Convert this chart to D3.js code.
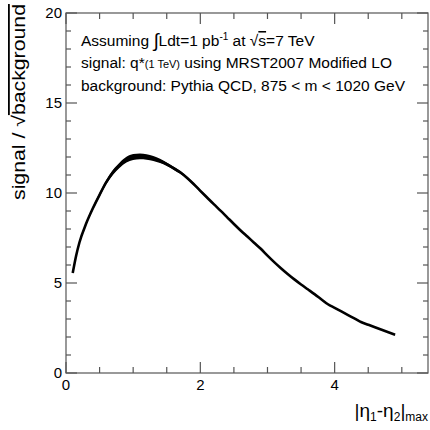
<!DOCTYPE html>
<html>
<head>
<meta charset="utf-8">
<script src="https://cdn.jsdelivr.net/npm/d3@7"></script>
<style>
  body { margin: 0; background: #fff; }
  svg text { font-family: "Liberation Sans", Arial, sans-serif; fill: #000; }
</style>
</head>
<body>
<div id="chart"></div>
<script>
// |eta1-eta2|max cut values
var etaCut = [0.1, 0.15, 0.2, 0.3, 0.4, 0.5, 0.6, 0.7, 0.8, 0.9, 1.0,
              1.1, 1.2, 1.3, 1.4, 1.5, 1.6, 1.7, 1.8, 1.9, 2.0,
              2.1, 2.2, 2.3, 2.4, 2.5, 2.6, 2.7, 2.8, 2.9, 3.0,
              3.1, 3.2, 3.3, 3.4, 3.5, 3.6, 3.7, 3.8, 3.9, 4.0,
              4.1, 4.2, 4.3, 4.4, 4.5, 4.6, 4.7, 4.8, 4.9];
// signal / sqrt(background)
var significance = [5.55, 6.5, 7.25, 8.3, 9.15, 9.9, 10.6, 11.15, 11.55, 11.85, 12.0,
                    12.03, 12.0, 11.92, 11.78, 11.6, 11.38, 11.15, 10.85, 10.5, 10.12,
                    9.75, 9.38, 9.02, 8.65, 8.28, 7.92, 7.58, 7.24, 6.9, 6.52,
                    6.16, 5.82, 5.5, 5.2, 4.92, 4.65, 4.38, 4.1, 3.82, 3.62,
                    3.42, 3.22, 3.02, 2.82, 2.68, 2.54, 2.4, 2.26, 2.12];
// half width of the uncertainty band
var bandErr = [0.03, 0.05, 0.06, 0.08, 0.1, 0.11, 0.12, 0.14, 0.15, 0.16, 0.16,
               0.16, 0.15, 0.14, 0.12, 0.1, 0.09, 0.08, 0.07, 0.07, 0.06,
               0.06, 0.05, 0.05, 0.05, 0.05, 0.04, 0.04, 0.04, 0.04, 0.04,
               0.04, 0.03, 0.03, 0.03, 0.03, 0.03, 0.03, 0.03, 0.03, 0.03,
               0.03, 0.03, 0.03, 0.03, 0.03, 0.03, 0.03, 0.03, 0.03];
var xMajor = [0, 2, 4];
var yMajor = [0, 5, 10, 15, 20];
var notes = ["Assuming", "signal: q*", "background: Pythia QCD, 875 < m < 1020 GeV"];

var W = 430, H = 430;
var margin = {left: 66, right: 2, top: 13, bottom: 57};

var svg = d3.select('#chart').append('svg')
    .attr('width', W)
    .attr('height', H);

var x = d3.scaleLinear().domain([0, 5.39]).range([margin.left, W - margin.right]);
var y = d3.scaleLinear().domain([0, 20]).range([H - margin.bottom, margin.top]);

var axisColor = '#555';

// frame
svg.append('rect')
    .attr('x', x(0)).attr('y', y(20))
    .attr('width', x(5.39) - x(0)).attr('height', y(0) - y(20))
    .attr('fill', 'none').attr('stroke', axisColor).attr('stroke-width', 1.2);

// ticks (ROOT style: inside, mirrored)
var xMinor = d3.range(0, 5.4, 0.5);
var yMinor = d3.range(0, 20.01, 1);
var ticks = svg.append('g').attr('stroke', axisColor).attr('stroke-width', 1.2);
xMinor.forEach(function(v) {
    var len = (xMajor.indexOf(v) >= 0) ? 11 : 6;
    ticks.append('line').attr('x1', x(v)).attr('x2', x(v)).attr('y1', y(0)).attr('y2', y(0) - len);
    ticks.append('line').attr('x1', x(v)).attr('x2', x(v)).attr('y1', y(20)).attr('y2', y(20) + len);
});
yMinor.forEach(function(v) {
    var len = (v % 5 === 0) ? 11 : 5;
    ticks.append('line').attr('y1', y(v)).attr('y2', y(v)).attr('x1', x(0)).attr('x2', x(0) + len);
    ticks.append('line').attr('y1', y(v)).attr('y2', y(v)).attr('x1', x(5.39)).attr('x2', x(5.39) - len);
});

// tick labels
svg.append('g').selectAll('text').data(xMajor).join('text')
    .attr('x', function(d) { return x(d); })
    .attr('y', y(0) + 17)
    .attr('text-anchor', 'middle')
    .attr('font-size', 15)
    .text(function(d) { return d; });
svg.append('g').selectAll('text').data(yMajor).join('text')
    .attr('x', x(0) - 4)
    .attr('y', function(d) { return y(d) + 5; })
    .attr('text-anchor', 'end')
    .attr('font-size', 15)
    .text(function(d) { return d; });

// band + line
var pts = etaCut.map(function(v, i) {
    return {x: v, y: significance[i], e: bandErr[i]};
});
svg.append('path')
    .datum(pts)
    .attr('fill', '#000')
    .attr('d', d3.area()
        .curve(d3.curveMonotoneX)
        .x(function(d) { return x(d.x); })
        .y0(function(d) { return y(d.y - d.e); })
        .y1(function(d) { return y(d.y + d.e); }));
svg.append('path')
    .datum(pts)
    .attr('fill', 'none')
    .attr('stroke', '#000')
    .attr('stroke-width', 2.6)
    .attr('stroke-linejoin', 'round')
    .attr('d', d3.line()
        .curve(d3.curveMonotoneX)
        .x(function(d) { return x(d.x); })
        .y(function(d) { return y(d.y); }));

// annotations
var fs = 15.5;
var t1 = svg.append('text').attr('x', 81).attr('y', 46).attr('font-size', fs);
t1.append('tspan').text('Assuming ');
t1.append('tspan').attr('font-size', 19).attr('dy', 1).text('\u222B');
t1.append('tspan').attr('dy', -1).text('Ldt=1 pb');
t1.append('tspan').attr('font-size', 10).attr('dy', -6).text('-1');
t1.append('tspan').attr('dy', 6).text(' at \u221A');
t1.append('tspan').style('text-decoration', 'overline').text('s');
t1.append('tspan').text('=7 TeV');

var t2 = svg.append('text').attr('x', 81).attr('y', 68).attr('font-size', fs);
t2.append('tspan').text(notes[1]);
t2.append('tspan').attr('font-size', 11).text('(1 TeV)');
t2.append('tspan').text(' using MRST2007 Modified LO');

svg.append('text').attr('x', 81).attr('y', 91).attr('font-size', fs).text(notes[2]);

// axis titles
var yt = svg.append('text')
    .attr('transform', 'translate(25,200) rotate(-90)')
    .attr('font-size', 18)
    .attr('textLength', 196)
    .attr('lengthAdjust', 'spacingAndGlyphs');
yt.append('tspan').text('signal / \u221A');
yt.append('tspan').style('text-decoration', 'overline').text('background');

var xt = svg.append('text').attr('x', 428).attr('y', 417).attr('text-anchor', 'end').attr('font-size', 19);
xt.append('tspan').text('|\u03B7');
xt.append('tspan').attr('font-size', 12).attr('dy', 4).text('1');
xt.append('tspan').attr('dy', -4).text('-\u03B7');
xt.append('tspan').attr('font-size', 12).attr('dy', 4).text('2');
xt.append('tspan').attr('dy', -4).text('|');
xt.append('tspan').attr('font-size', 12).attr('dy', 4).text('max');
</script>
</body>
</html>
